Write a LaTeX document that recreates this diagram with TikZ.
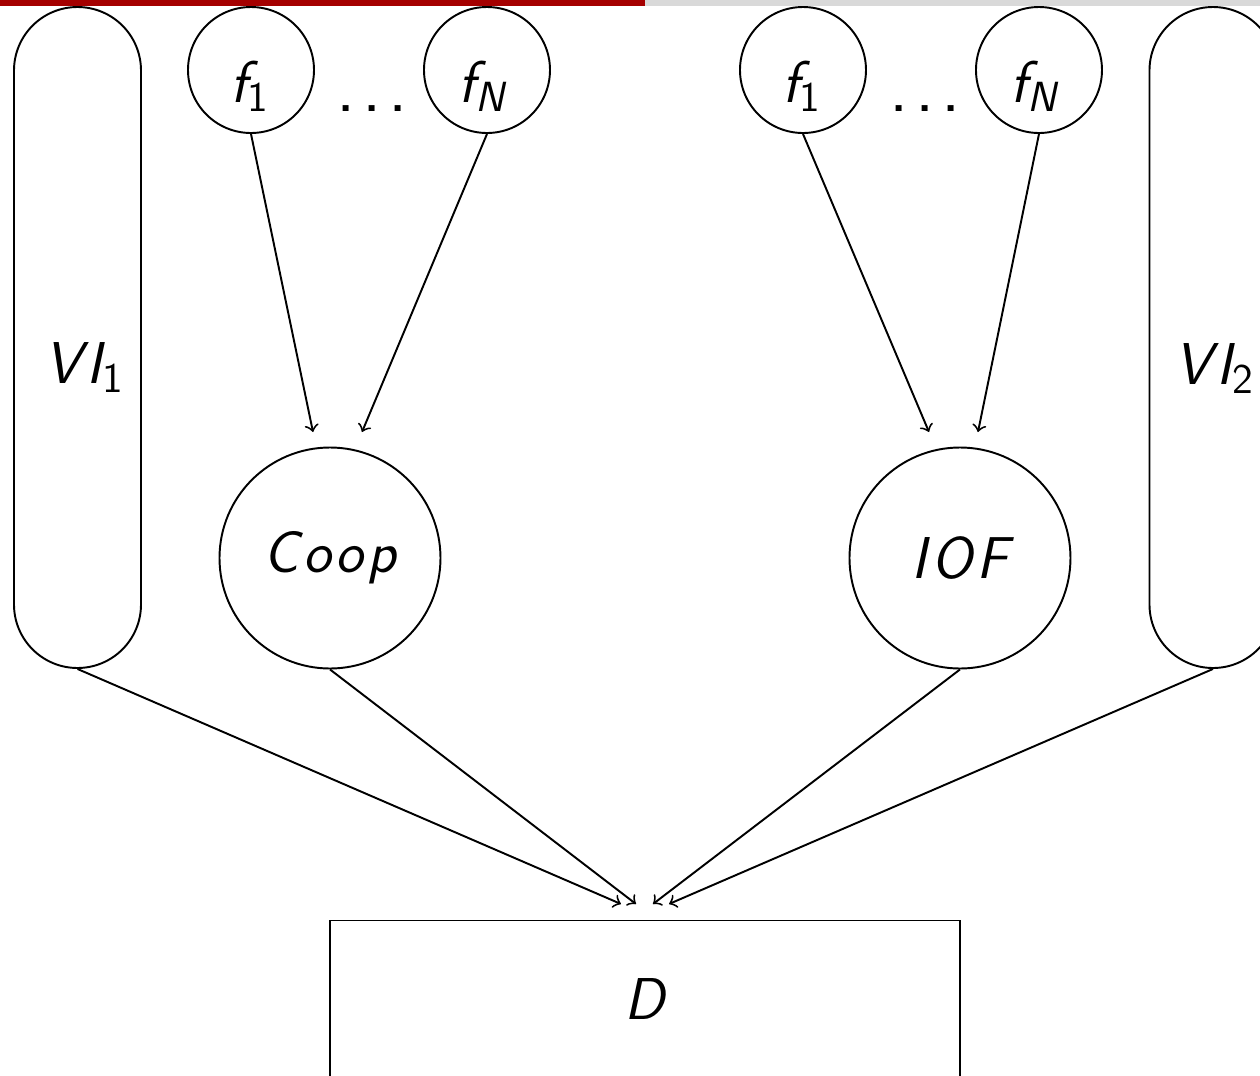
\documentclass[tikz,border=0pt]{standalone}
\usepackage{fontspec}
\definecolor{barred}{RGB}{165,0,0}
\definecolor{bargray}{RGB}{217,217,217}
\newcommand\mainsize{\sffamily\fontsize{16.8}{20}\selectfont}
% lowered upright/slanted index after a symbol
\newcommand\idx[1]{\raisebox{-2.6pt}{\fontsize{12}{12}\selectfont #1}}
% spaced dots
\newcommand\spdots{\fontsize{21}{22}\selectfont\upshape.\kern1.9pt.\kern1.9pt.}
\tikzset{
  fcirc/.style={draw, circle, line width=0.55pt, minimum size=1.26cm, inner sep=0pt},
  bigcirc/.style={draw, circle, line width=0.55pt, minimum size=2.21cm, inner sep=0pt, font=\mainsize\itshape},
  pill/.style={draw, rectangle, line width=0.55pt, rounded corners=0.635cm, minimum width=1.27cm, minimum height=6.61cm, inner sep=0pt},
  boxD/.style={draw, rectangle, line width=0.55pt, minimum width=6.30cm, minimum height=1.58cm, inner sep=0pt, font=\mainsize\itshape},
  lab/.style={anchor=base, inner sep=0pt, font=\mainsize\itshape},
  flow/.style={->, line width=0.55pt},
}
\begin{document}
\begin{tikzpicture}
\useasboundingbox (0,0) rectangle (12.6,-10.76);
\clip (0,0) rectangle (12.6,-10.76);

% progress bar
\fill[barred] (0,0) rectangle (6.45,-0.055);
\fill[bargray] (6.45,0) rectangle (12.6,-0.055);

% side pills
\node[pill] (vi1) at (0.775,-3.375) {};
\node[pill] (vi2) at (12.13,-3.375) {};
\node[lab] (vi1lab) at (0.84,-3.83) {V\kern1.2ptI\kern0.3pt\idx{\upshape 1}};
\node[lab] (vi2lab) at (12.14,-3.84) {V\kern1.2ptI\kern0.3pt\idx{\upshape 2}};

% factor circles
\node[fcirc] (fa1) at (2.51,-0.70) {};
\node[fcirc] (faN) at (4.87,-0.70) {};
\node[fcirc] (fb1) at (8.03,-0.70) {};
\node[fcirc] (fbN) at (10.39,-0.70) {};
\node[lab] (fa1lab) at (2.49,-1.02) {f\idx{\upshape 1}};
\node[lab] (faNlab) at (4.81,-1.02) {f\idx{N}};
\node[lab] (fb1lab) at (8.01,-1.02) {f\idx{\upshape 1}};
\node[lab] (fbNlab) at (10.33,-1.02) {f\idx{N}};
\node[lab,font=\mainsize] (dotsa) at (3.72,-1.11) {\spdots};
\node[lab,font=\mainsize] (dotsb) at (9.25,-1.11) {\spdots};

% aggregation circles
\node[bigcirc] (coop) at (3.30,-5.58) {C\kern1.2pt o\kern1.3pt o\kern1.3pt p};
\node[bigcirc] (iof) at (9.60,-5.58) {I\kern1.4pt O\kern1.2pt F};

% decision box
\node[boxD] (dec) at (6.45,-9.995) {D};

% arrow ends
\coordinate (t1) at (3.13,-4.32);
\coordinate (t2) at (3.62,-4.32);
\coordinate (t3) at (9.29,-4.32);
\coordinate (t4) at (9.78,-4.32);
\coordinate (b1) at (6.21,-9.04);
\coordinate (b2) at (6.36,-9.04);
\coordinate (b3) at (6.53,-9.04);
\coordinate (b4) at (6.69,-9.04);

\draw[flow] (fa1.south) -- (t1);
\draw[flow] (faN.south) -- (t2);
\draw[flow] (fb1.south) -- (t3);
\draw[flow] (fbN.south) -- (t4);
\draw[flow] (vi1.south) -- (b1);
\draw[flow] (coop.south) -- (b2);
\draw[flow] (iof.south) -- (b3);
\draw[flow] (vi2.south) -- (b4);
\end{tikzpicture}
\end{document}
